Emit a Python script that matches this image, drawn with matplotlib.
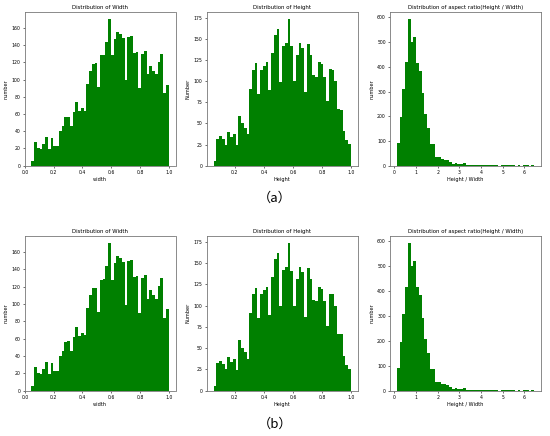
import numpy as np
import matplotlib
matplotlib.use("Agg")
import matplotlib.pyplot as plt

# Bar counts (50 bins each)
width_counts = [6, 27, 21, 19, 25, 33, 19, 32, 23, 23,
                40, 46, 56, 57, 46, 62, 74, 63, 67, 64,
                95, 110, 118, 119, 91, 128, 129, 144, 170, 128,
                147, 155, 153, 148, 99, 150, 151, 131, 132, 90,
                130, 133, 106, 116, 110, 106, 121, 130, 84, 94]
width_range = (0.045, 0.998)

height_counts = [5, 32, 35, 31, 25, 40, 34, 37, 24, 59,
                 50, 45, 37, 91, 113, 121, 85, 113, 118, 122,
                 89, 133, 155, 162, 99, 142, 145, 173, 141, 100,
                 131, 145, 139, 87, 144, 131, 107, 105, 122, 120,
                 105, 76, 114, 113, 100, 67, 66, 41, 30, 26]
height_range = (0.053, 0.998)

ratio_counts = [90, 195, 310, 418, 592, 500, 522, 416, 385, 293,
                209, 151, 88, 86, 36, 35, 28, 25, 22, 14,
                8, 10, 6, 8, 10, 2, 2, 1, 1, 1,
                2, 1, 1, 3, 4, 3, 1, 0, 1, 2,
                2, 1, 1, 0, 1, 0, 1, 1, 0, 1]
ratio_range = (0.12, 6.45)

panels = [
    ("Distribution of Width", "width", "number", width_counts, width_range),
    ("Distribution of Height", "Height", "Number", height_counts, height_range),
    ("Distribution of aspect ratio(Height / Width)", "Height / Width", "number",
     ratio_counts, ratio_range),
]
row_labels = ["（a）", "（b）"]

fig = plt.figure(figsize=(5.5, 4.36), dpi=100)

lefts = [24.5 / 550, 206.7 / 550, 390.0 / 550]
ax_w = 151.0 / 550
rows = [(1 - 165.7 / 436, 153.7 / 436), (1 - 390.7 / 436, 154.7 / 436)]
label_y = [1 - 198 / 436, 1 - 424 / 436]

for r, (bottom, h) in enumerate(rows):
    for c, (title, xlab, ylab, counts, rng) in enumerate(panels):
        ax = fig.add_axes([lefts[c], bottom, ax_w, h])
        edges = np.linspace(rng[0], rng[1], len(counts) + 1)
        ax.hist(edges[:-1], bins=edges, weights=counts, color="green")
        ax.set_title(title, fontsize=3.9, pad=2)
        ax.set_xlabel(xlab, fontsize=3.6, labelpad=1.5)
        ax.set_ylabel(ylab, fontsize=3.6, labelpad=2)
        ax.tick_params(labelsize=3.3, length=1.5, width=0.4, pad=1.5)
        for s in ax.spines.values():
            s.set_linewidth(0.6)
            s.set_color("#777777")
    fig.text(0.5, label_y[r], row_labels[r], ha="center", va="center",
             fontsize=9.5, family=["Noto Sans CJK SC", "DejaVu Sans"])

fig.savefig("out.png", dpi=100)
